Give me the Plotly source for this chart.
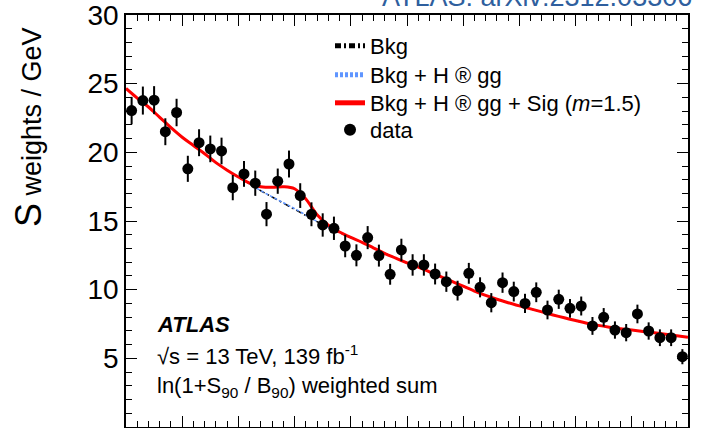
import plotly.graph_objects as go

# ---------------- data ----------------
bin_centers = [110.5 + i for i in range(50)]
data_vals = [23.04, 23.77, 23.80, 21.50, 22.90, 18.80, 20.70, 20.25, 20.10, 17.43,
             18.43, 17.75, 15.50, 17.90, 19.15, 16.85, 15.49, 14.71, 14.47, 13.18,
             12.50, 13.79, 12.48, 11.12, 12.89, 11.80, 11.80, 11.14, 10.58, 9.93,
             11.19, 10.17, 9.05, 10.51, 9.86, 9.00, 9.81, 8.52, 9.30, 8.64,
             8.81, 7.36, 7.99, 7.06, 6.87, 8.23, 6.99, 6.50, 6.50, 5.12]
data_errs = [1.00, 1.02, 1.02, 0.98, 1.00, 0.95, 0.98, 0.97, 0.97, 0.92,
             0.94, 0.92, 0.88, 0.92, 0.98, 0.90, 0.87, 0.85, 0.85, 0.82,
             0.80, 0.84, 0.80, 0.76, 0.82, 0.78, 0.78, 0.76, 0.74, 0.72,
             0.76, 0.73, 0.70, 0.74, 0.72, 0.70, 0.72, 0.68, 0.70, 0.68,
             0.69, 0.65, 0.67, 0.63, 0.63, 0.68, 0.63, 0.61, 0.61, 0.55]

curve_x = list(range(110, 161))
sig_curve = [24.65, 23.95, 23.30, 22.55, 21.80, 21.10, 20.50, 19.90, 19.25, 18.70,
             18.20, 17.75, 17.50, 17.45, 17.50, 17.35, 16.60, 15.45, 14.70, 14.20,
             13.80, 13.45, 13.05, 12.65, 12.30, 11.95, 11.65, 11.30, 10.95, 10.60,
             10.25, 9.90, 9.58, 9.30, 9.05, 8.82, 8.60, 8.38, 8.16, 7.95,
             7.75, 7.56, 7.40, 7.27, 7.16, 7.06, 6.96, 6.86, 6.75, 6.64, 6.53]
bkg_curve = [24.65, 23.95, 23.30, 22.55, 21.80, 21.10, 20.50, 19.90, 19.25, 18.70,
             18.20, 17.70, 17.20, 16.75, 16.30, 15.85, 15.40, 14.95, 14.55, 14.15,
             13.80, 13.45, 13.05, 12.65, 12.30, 11.95, 11.65, 11.30, 10.95, 10.60,
             10.25, 9.90, 9.58, 9.30, 9.05, 8.82, 8.60, 8.38, 8.16, 7.95,
             7.75, 7.56, 7.40, 7.27, 7.16, 7.06, 6.96, 6.86, 6.75, 6.64, 6.53]
bkgh_curve = [24.65, 23.95, 23.30, 22.55, 21.80, 21.10, 20.50, 19.90, 19.25, 18.70,
              18.20, 17.70, 17.20, 16.76, 16.33, 15.90, 15.43, 14.96, 14.55, 14.15,
              13.80, 13.45, 13.05, 12.65, 12.30, 11.95, 11.65, 11.30, 10.95, 10.60,
              10.25, 9.90, 9.58, 9.30, 9.05, 8.82, 8.60, 8.38, 8.16, 7.95,
              7.75, 7.56, 7.40, 7.27, 7.16, 7.06, 6.96, 6.86, 6.75, 6.64, 6.53]

y_tickvals = [5, 10, 15, 20, 25, 30]
y_ticktext = ["5", "10", "15", "20", "25", "30"]

FONT = "Liberation Sans, Arial, Helvetica, sans-serif"
LEG_FONT = dict(size=22, family=FONT, color="black")

fig = go.Figure()
fig.add_trace(go.Scatter(x=curve_x, y=bkg_curve, mode="lines", name="Bkg", legend="legend",
                         line=dict(color="black", width=1.5, dash="6px,3px,2px,3px", shape="spline")))
fig.add_trace(go.Scatter(x=curve_x, y=bkgh_curve, mode="lines", name="Bkg + H ® gg",
                         legend="legend2",
                         line=dict(color="#5f95ff", width=1.5, dash="3px,2px", shape="spline")))
fig.add_trace(go.Scatter(x=curve_x, y=sig_curve, mode="lines",
                         name="Bkg + H ® gg + Sig (<i>m</i>=1.5)", legend="legend3",
                         line=dict(color="#ff0000", width=3, shape="spline")))
fig.add_trace(go.Scatter(x=bin_centers, y=data_vals, mode="markers", name="data",
                         legend="legend4",
                         marker=dict(color="black", size=11),
                         error_y=dict(type="data", array=data_errs, color="black",
                                      thickness=2, width=0)))

axis_common = dict(showline=True, linecolor="black", linewidth=1.5, mirror="allticks",
                   ticks="inside", tickcolor="black", tickwidth=1.2, showgrid=False,
                   zeroline=False)

fig.update_xaxes(range=[110, 160], tickmode="linear", tick0=110, dtick=5, ticklen=11,
                 showticklabels=False,
                 minor=dict(dtick=1, tick0=110, ticklen=6, ticks="inside",
                            tickcolor="black", tickwidth=1.2, showgrid=False),
                 **axis_common)
fig.update_yaxes(range=[0, 30], tickmode="array", tickvals=y_tickvals, ticktext=y_ticktext,
                 ticklen=11, tickfont=dict(size=28, color="black", family=FONT),
                 ticklabeloverflow="allow",
                 minor=dict(dtick=1, tick0=0, ticklen=6, ticks="inside",
                            tickcolor="black", tickwidth=1.2, showgrid=False),
                 **axis_common)

leg_x = 0.363
leg_common = dict(x=leg_x, xanchor="left", yanchor="middle", bgcolor="rgba(0,0,0,0)",
                  font=LEG_FONT, itemsizing="constant")

fig.update_layout(
    width=710, height=428,
    margin=dict(l=126, r=22, t=15, b=1),
    plot_bgcolor="white", paper_bgcolor="white",
    font=dict(family=FONT, color="black"),
    showlegend=True,
    legend=dict(y=0.9248, **leg_common),
    legend2=dict(y=0.8544, **leg_common),
    legend3=dict(y=0.7864, **leg_common),
    legend4=dict(y=0.7209, **leg_common),
    annotations=[
        dict(text="<span style='font-size:36px'>S</span> weights / GeV",
             xref="paper", yref="paper", x=-0.1744, y=0.728, xanchor="center",
             yanchor="middle", textangle=-90, showarrow=False,
             font=dict(size=27, family=FONT, color="black")),
        dict(text="<b><i>ATLAS</i></b>", xref="paper", yref="paper", x=0.0516, y=0.25,
             xanchor="left", yanchor="middle", showarrow=False,
             font=dict(size=22, family=FONT, color="black")),
        dict(text="√s = 13 TeV, 139 fb<sup>-1</sup>", xref="paper", yref="paper",
             x=0.0516, y=0.1748, xanchor="left", yanchor="middle", showarrow=False,
             font=dict(size=22, family=FONT, color="black")),
        dict(text="ln(1+S<sub>90</sub> / B<sub>90</sub>) weighted sum", xref="paper",
             yref="paper", x=0.0516, y=0.0971, xanchor="left", yanchor="middle",
             showarrow=False, font=dict(size=22, family=FONT, color="black")),
        dict(text="ATLAS: arXiv:2312.03306", xref="paper", yref="paper", x=0.452, y=1,
             xanchor="left", yanchor="bottom", yshift=1, showarrow=False,
             font=dict(size=27, family=FONT, color="#2f5f9e")),
    ],
)

fig.write_html("out.html")
